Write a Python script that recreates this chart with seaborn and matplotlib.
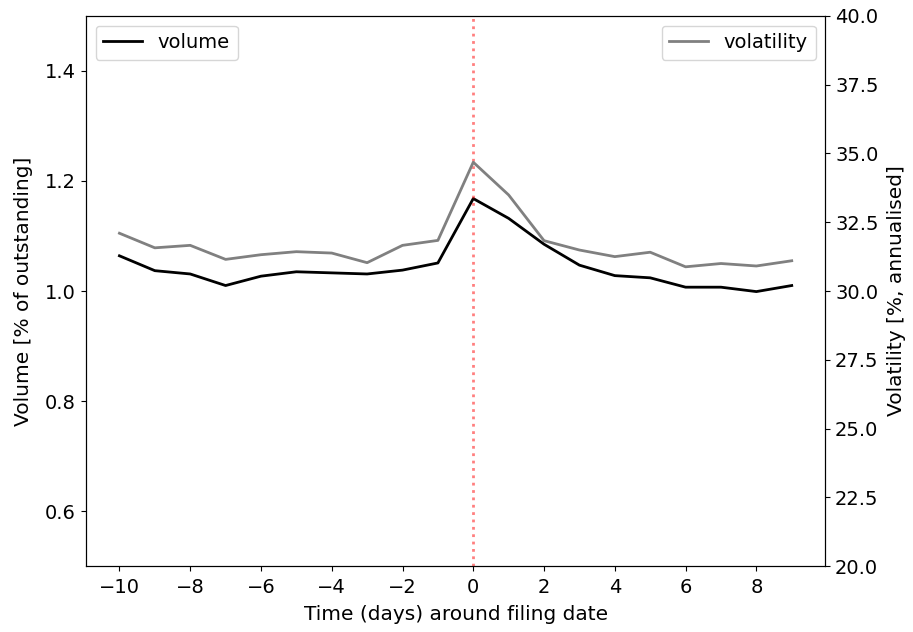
import numpy as np
import pandas as pd
import matplotlib
matplotlib.use('Agg')
import matplotlib.pyplot as plt
import seaborn as sns

# days around filing date
days = list(range(-10, 10))

# volume, % of outstanding
volume = [1.064, 1.037, 1.031, 1.010, 1.027, 1.035, 1.033, 1.031, 1.038, 1.051,
          1.168, 1.132, 1.085, 1.047, 1.028, 1.024, 1.007, 1.007, 0.999, 1.010]

# volatility, %, annualised
volatility = [32.10, 31.57, 31.66, 31.15, 31.32, 31.43, 31.38, 31.03, 31.66, 31.84,
              34.68, 33.49, 31.83, 31.49, 31.25, 31.41, 30.88, 31.00, 30.91, 31.10]

df = pd.DataFrame({'day': days, 'volume': volume, 'volatility': volatility})

plt.rcParams['font.size'] = 14
plt.rcParams['axes.labelsize'] = 14.5
plt.rcParams['axes.labelpad'] = 6
plt.rcParams['xtick.major.pad'] = 5

fig, ax = plt.subplots(figsize=(9.13, 6.32), dpi=100)
fig.subplots_adjust(left=0.094, right=0.904, top=0.975, bottom=0.104)

sns.lineplot(data=df, x='day', y='volume', ax=ax, color='black', linewidth=2, label='volume')
ax.axvline(0, color='red', alpha=0.5, linestyle=':', linewidth=2)
ax.set_ylim(0.5, 1.5)
ax.set_yticks([0.6, 0.8, 1.0, 1.2, 1.4])
ax.set_xticks(range(-10, 10, 2))
ax.set_xlabel('Time (days) around filing date')
ax.set_ylabel('Volume [% of outstanding]', labelpad=9)
ax.legend(loc='upper left')

ax2 = ax.twinx()
sns.lineplot(data=df, x='day', y='volatility', ax=ax2, color='grey', linewidth=2, label='volatility')
ax2.set_ylim(20, 40)
ax2.set_ylabel('Volatility [%, annualised]')
ax2.legend(loc='upper right')

fig.savefig('out.png', dpi=100)
